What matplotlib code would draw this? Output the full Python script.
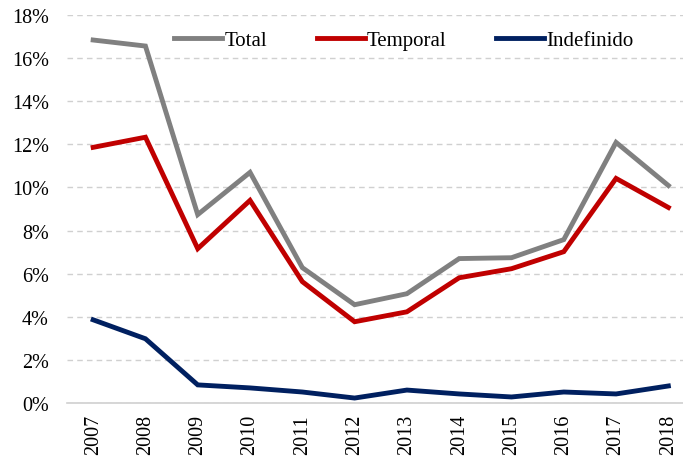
import matplotlib
matplotlib.use("Agg")
import matplotlib.pyplot as plt
from matplotlib.ticker import FuncFormatter

plt.rcParams['font.family'] = ['Liberation Serif', 'DejaVu Serif']

anos = [str(a) for a in range(2007, 2019)]
total = [16.84, 16.56, 8.74, 10.70, 6.28, 4.56, 5.07, 6.70, 6.74, 7.58, 12.09, 10.09]
temporal = [11.86, 12.33, 7.16, 9.40, 5.63, 3.77, 4.23, 5.81, 6.23, 7.02, 10.42, 9.07]
indefinido = [3.86, 2.98, 0.84, 0.70, 0.51, 0.23, 0.60, 0.42, 0.28, 0.51, 0.42, 0.79]

fig = plt.figure(figsize=(6.83, 4.6), dpi=100)
ax = fig.add_axes([67 / 683, 56 / 460, 1 - 67 / 683, (404 - 16) / 460])

x = range(len(anos))
ax.plot(x, total, color='#808080', lw=3.5, label='Total', solid_joinstyle='miter')
ax.plot(x, temporal, color='#C00000', lw=3.5, label='Temporal', solid_joinstyle='miter')
ax.plot(x, indefinido, color='#002060', lw=3.5, label='Indefinido', solid_joinstyle='miter')

ax.set_ylim(0, 18)
ax.set_xlim(-0.5, 11.28)
ax.set_yticks(range(0, 19, 2))
ax.yaxis.set_major_formatter(FuncFormatter(lambda v, p: f"{v:.0f}%"))
ax.set_xticks(list(x))
ax.set_xticklabels(anos, rotation=90)
ax.tick_params(axis='both', length=0, labelsize=14.5, colors='black')
ax.tick_params(axis='y', pad=13)
ax.tick_params(axis='x', pad=8)

ax.grid(axis='y', color='#D0D0D0', linestyle=(0, (4, 3)), lw=1)
ax.set_axisbelow(True)
for s in ['top', 'right', 'left']:
    ax.spines[s].set_visible(False)
ax.spines['bottom'].set_color('#D0D0D0')
ax.spines['bottom'].set_linewidth(1.2)

ax.legend(loc='center', bbox_to_anchor=(0.547, 1 - 25 / 388), ncol=3, frameon=False,
          fontsize=15, handlelength=2.3, handletextpad=0.1, columnspacing=2.4)

fig.savefig('out.png', dpi=100)
